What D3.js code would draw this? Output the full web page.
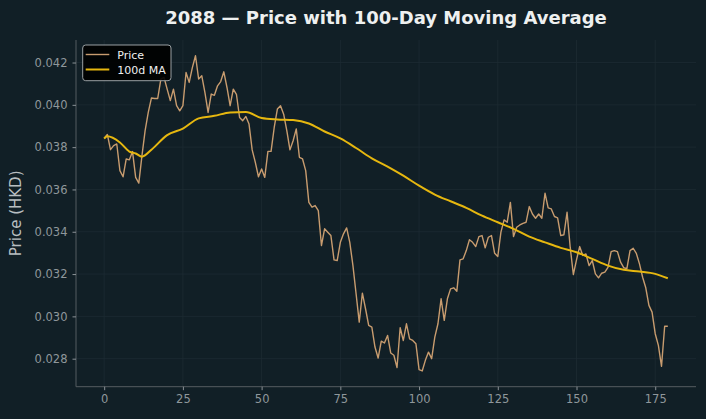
<!DOCTYPE html>
<html>
<head>
<meta charset="utf-8">
<script src="https://cdn.jsdelivr.net/npm/d3@7"></script>
<style>
  html, body { margin: 0; padding: 0; background: #111f26; }
  svg { display: block; }
</style>
</head>
<body>
<div id="chart"></div>
<script>
// ---- Data ----
const priceValues = [
  0.03841, 0.0386, 0.03788, 0.03807, 0.03815, 0.03689, 0.0366, 0.03744, 0.0374, 0.03779,
  0.03657, 0.0363, 0.0376, 0.03878, 0.03964, 0.04032, 0.0403, 0.0403, 0.04122, 0.0413,
  0.04074, 0.0402, 0.04074, 0.03996, 0.03972, 0.03996, 0.04153, 0.04106, 0.04176, 0.04232,
  0.04122, 0.04137, 0.04058, 0.03964, 0.04051, 0.04045, 0.0409, 0.0411, 0.04156, 0.04082,
  0.03996, 0.04074, 0.0405, 0.0394, 0.03925, 0.03945, 0.03909, 0.03787, 0.03728, 0.0366,
  0.03697, 0.03657, 0.0378, 0.0378, 0.03893, 0.0398, 0.03996, 0.03956, 0.03878, 0.03787,
  0.0383, 0.03886, 0.03752, 0.03744, 0.03689, 0.03539, 0.03516, 0.03524, 0.035, 0.03335,
  0.03414, 0.03398, 0.03382, 0.03267, 0.03264, 0.0335, 0.0339, 0.03418, 0.0335, 0.0324,
  0.03107, 0.02973, 0.0311, 0.03036, 0.02957, 0.02949, 0.02855, 0.02803, 0.02883, 0.02874,
  0.0291, 0.02827, 0.02816, 0.02758, 0.02946, 0.02886, 0.02965, 0.02894, 0.02886, 0.02871,
  0.02748, 0.02742, 0.02792, 0.02831, 0.028, 0.02902, 0.02965, 0.03083, 0.02981, 0.03083,
  0.0313, 0.03135, 0.03119, 0.03267, 0.03272, 0.03311, 0.03362, 0.0335, 0.0333, 0.03377,
  0.03382, 0.03324, 0.03374, 0.03382, 0.03298, 0.03283, 0.03398, 0.03456, 0.03445, 0.03539,
  0.03377, 0.03421, 0.03432, 0.0344, 0.03445, 0.03519, 0.03484, 0.03464, 0.03484, 0.03464,
  0.03582, 0.03513, 0.03508, 0.03472, 0.03466, 0.03382, 0.03386, 0.03492, 0.03327, 0.03198,
  0.03267, 0.0333, 0.03288, 0.03295, 0.0324, 0.03264, 0.03201, 0.03182, 0.03204, 0.03209,
  0.03232, 0.03306, 0.03311, 0.03306, 0.03256, 0.0323, 0.03226, 0.03311, 0.03322, 0.03298,
  0.03248, 0.03185, 0.03135, 0.03052, 0.0302, 0.02918, 0.02863, 0.02764, 0.02953, 0.02953
];
const maDays = [0, 1, 5, 8, 10, 12, 15, 20, 25, 30, 35, 40, 45, 50, 55, 60, 65, 70, 75, 80, 85, 90,
  95, 100, 105, 110, 115, 120, 125, 130, 135, 140, 145, 150, 155, 160, 165, 170, 175, 179];
const maValues = [0.03841, 0.03851, 0.03822, 0.03779, 0.0377, 0.03755, 0.03788, 0.03857, 0.03888, 0.03936,
  0.03948, 0.03964, 0.03966, 0.03938, 0.03931, 0.03928, 0.03912, 0.03874, 0.03841, 0.03796,
  0.03747, 0.03708, 0.03665, 0.03618, 0.03576, 0.03544, 0.03513, 0.03476, 0.03445, 0.03414,
  0.03377, 0.0335, 0.03324, 0.03303, 0.03272, 0.0324, 0.0322, 0.03212, 0.03201, 0.0318];
const xTicks = [0, 25, 50, 75, 100, 125, 150, 175];
const yTicks = [0.028, 0.030, 0.032, 0.034, 0.036, 0.038, 0.040, 0.042];
const titleText = "2088 — Price with 100-Day Moving Average";
const yLabel = "Price (HKD)";
const seriesNames = ["Price", "100d MA"];

// ---- Layout ----
const W = 706, H = 419;
const m = { left: 76, right: 10, top: 40, bottom: 32.3 };
const iw = W - m.left - m.right, ih = H - m.top - m.bottom;
const bg = "#111f26", priceColor = "#c89c6f", maColor = "#e6b70f";

const svg = d3.select("#chart").append("svg").attr("width", W).attr("height", H);
svg.append("rect").attr("width", W).attr("height", H).attr("fill", bg);

const pMin = d3.min(priceValues), pMax = d3.max(priceValues);
const pad = (pMax - pMin) * 0.05;
const n = priceValues.length - 1;
const x = d3.scaleLinear().domain([-n * 0.05, n * 1.05]).range([0, iw]);
const y = d3.scaleLinear().domain([pMin - pad, pMax + pad]).range([ih, 0]);

const g = svg.append("g").attr("transform", `translate(${m.left},${m.top})`);

// grid
g.append("g").selectAll("line").data(xTicks).join("line")
  .attr("x1", d => x(d)).attr("x2", d => x(d)).attr("y1", 0).attr("y2", ih)
  .attr("stroke", "#1d2b32").attr("stroke-width", 0.8);
g.append("g").selectAll("line").data(yTicks).join("line")
  .attr("y1", d => y(d)).attr("y2", d => y(d)).attr("x1", 0).attr("x2", iw)
  .attr("stroke", "#1d2b32").attr("stroke-width", 0.8);

// axes
const xAxis = g.append("g").attr("transform", `translate(0,${ih})`)
  .call(d3.axisBottom(x).tickValues(xTicks).tickFormat(d3.format("d")).tickSizeOuter(0).tickSize(3.5).tickPadding(5));
const yAxis = g.append("g")
  .call(d3.axisLeft(y).tickValues(yTicks).tickFormat(d3.format(".3f")).tickSizeOuter(0).tickSize(3.5).tickPadding(5));
[xAxis, yAxis].forEach(a => {
  a.select(".domain").attr("stroke", "#555d61").attr("stroke-width", 1);
  a.selectAll(".tick line").attr("stroke", "#8a9196");
  a.selectAll(".tick text").attr("fill", "#8f979b").attr("font-family", "DejaVu Sans").attr("font-size", 11.5);
});
xAxis.select(".domain").attr("d", `M0,0H${iw}`);
yAxis.select(".domain").attr("d", `M0,0V${ih}`);

// lines
const priceLine = d3.line().x((d, i) => x(i)).y(d => y(d));
g.append("path").datum(priceValues).attr("d", priceLine)
  .attr("fill", "none").attr("stroke", priceColor).attr("stroke-width", 1.4).attr("stroke-linejoin", "round");
const maLine = d3.line().x((d, i) => x(maDays[i])).y(d => y(d)).curve(d3.curveMonotoneX);
g.append("path").datum(maValues).attr("d", maLine)
  .attr("fill", "none").attr("stroke", maColor).attr("stroke-width", 2).attr("stroke-linejoin", "round");

// title
svg.append("text").attr("x", m.left + iw / 2).attr("y", 24).attr("text-anchor", "middle")
  .attr("font-family", "DejaVu Sans").attr("font-weight", "bold").attr("font-size", 18)
  .attr("fill", "#eef0f0").text(titleText);

// y label
svg.append("text").attr("transform", `translate(21,${m.top + ih / 2}) rotate(-90)`)
  .attr("text-anchor", "middle").attr("font-family", "DejaVu Sans").attr("font-size", 15)
  .attr("fill", "#b8bec1").text(yLabel);

// legend
const lg = g.append("g").attr("transform", "translate(6.7,5)");
lg.append("rect").attr("x", 0).attr("y", 0).attr("width", 88.3).attr("height", 35.7).attr("rx", 3)
  .attr("fill", "#000000").attr("fill-opacity", 0.9).attr("stroke", "#9aa0a3").attr("stroke-width", 1);
const colors = [priceColor, maColor];
const widths = [1.4, 2];
seriesNames.forEach((s, i) => {
  const yy = 9.5 + i * 15;
  lg.append("line").attr("x1", 3).attr("x2", 26.6).attr("y1", yy).attr("y2", yy)
    .attr("stroke", colors[i]).attr("stroke-width", widths[i]);
  lg.append("text").attr("x", 34.6).attr("y", yy + 4).attr("font-family", "DejaVu Sans").attr("font-size", 11)
    .attr("fill", "#f0f0f0").text(s);
});
</script>
</body>
</html>
